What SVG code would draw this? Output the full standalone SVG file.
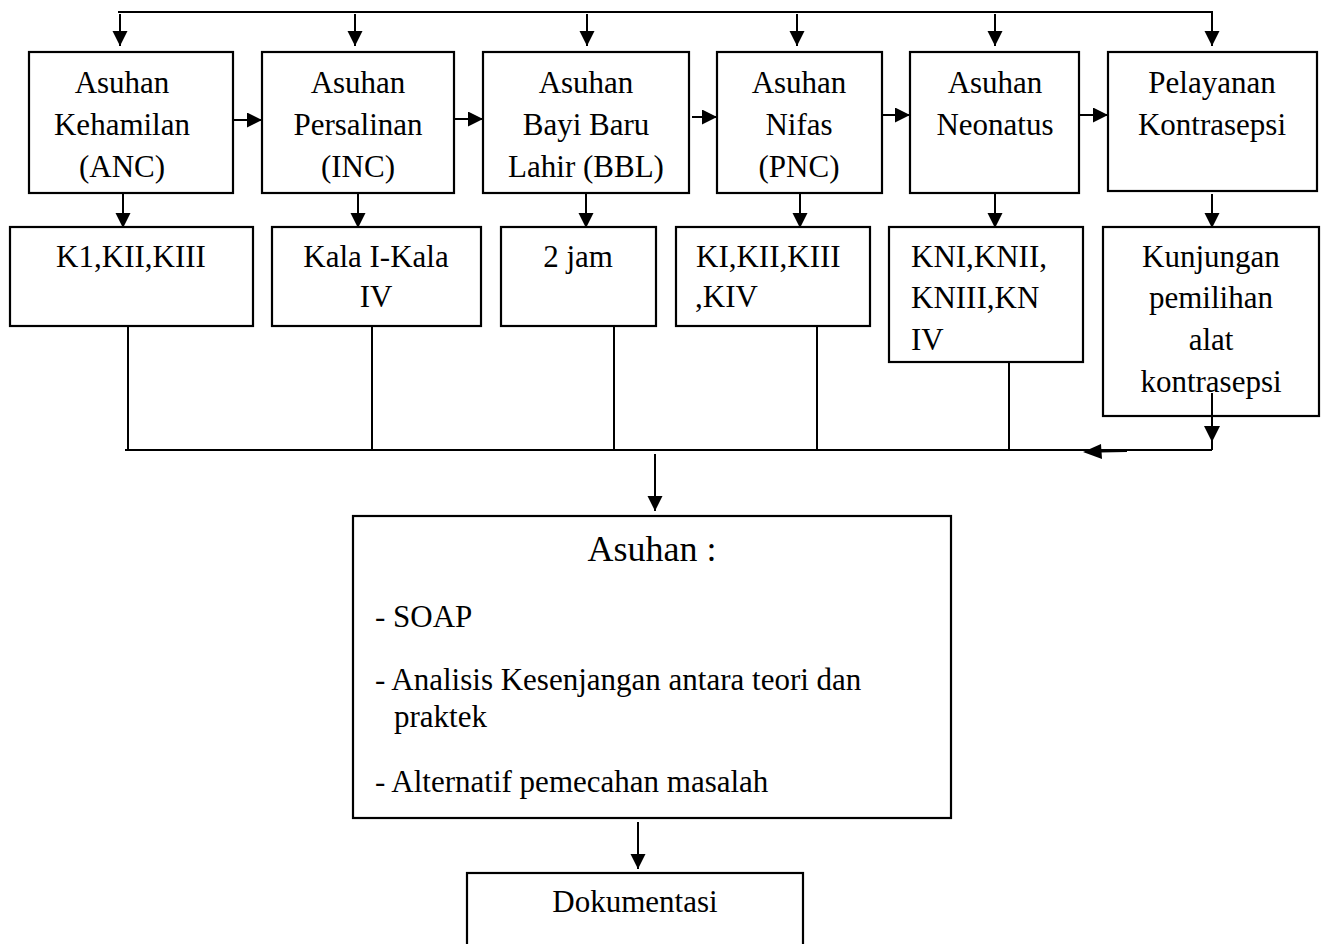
<svg xmlns="http://www.w3.org/2000/svg" width="1327" height="944" viewBox="0 0 1327 944">
<style>
.box{fill:#fff;stroke:#000;stroke-width:2.2}
.t{font-family:"Liberation Serif","Times New Roman",serif;font-size:31px;fill:#000}
.c{text-anchor:middle}
.ln{stroke:#000;stroke-width:2;fill:none}
.ah{fill:#000}
</style>
<defs>
<marker id="arr" markerUnits="userSpaceOnUse" markerWidth="16" markerHeight="16" refX="15" refY="7.5" orient="auto">
<path d="M0,0 L15,7.5 L0,15 Z" fill="#000"/>
</marker>
</defs>
<rect width="1327" height="944" fill="#fff"/>
<g id="connectors">
<line class="ln" x1="118" y1="12" x2="1213" y2="12"/>
<line class="ln" x1="120" y1="14" x2="120" y2="46" marker-end="url(#arr)"/>
<line class="ln" x1="355" y1="14" x2="355" y2="46" marker-end="url(#arr)"/>
<line class="ln" x1="587" y1="14" x2="587" y2="46" marker-end="url(#arr)"/>
<line class="ln" x1="797" y1="14" x2="797" y2="46" marker-end="url(#arr)"/>
<line class="ln" x1="995" y1="14" x2="995" y2="46" marker-end="url(#arr)"/>
<line class="ln" x1="1212" y1="12" x2="1212" y2="46" marker-end="url(#arr)"/>
<line class="ln" x1="233" y1="120" x2="262" y2="120" marker-end="url(#arr)"/>
<line class="ln" x1="454" y1="119" x2="483" y2="119" marker-end="url(#arr)"/>
<line class="ln" x1="692" y1="117" x2="717" y2="117" marker-end="url(#arr)"/>
<line class="ln" x1="883" y1="115" x2="910" y2="115" marker-end="url(#arr)"/>
<line class="ln" x1="1079" y1="115" x2="1108" y2="115" marker-end="url(#arr)"/>
<line class="ln" x1="123" y1="193" x2="123" y2="228" marker-end="url(#arr)"/>
<line class="ln" x1="358" y1="193" x2="358" y2="228" marker-end="url(#arr)"/>
<line class="ln" x1="586" y1="193" x2="586" y2="228" marker-end="url(#arr)"/>
<line class="ln" x1="800" y1="193" x2="800" y2="228" marker-end="url(#arr)"/>
<line class="ln" x1="995" y1="193" x2="995" y2="228" marker-end="url(#arr)"/>
<line class="ln" x1="1212" y1="194" x2="1212" y2="228" marker-end="url(#arr)"/>
<line class="ln" x1="128" y1="326" x2="128" y2="450"/>
<line class="ln" x1="372" y1="326" x2="372" y2="450"/>
<line class="ln" x1="614" y1="326" x2="614" y2="450"/>
<line class="ln" x1="817" y1="326" x2="817" y2="450"/>
<line class="ln" x1="1009" y1="362" x2="1009" y2="450"/>
<line class="ln" x1="125" y1="450" x2="1212" y2="450"/>
<line class="ln" x1="1212" y1="393" x2="1212" y2="450"/>
<polygon class="ah" points="1204,426 1220,426 1212,442"/>
<line class="ln" x1="1127" y1="451" x2="1100" y2="451.5"/>
<polygon class="ah" points="1083,452 1101,444 1102,459"/>
<line class="ln" x1="655" y1="454" x2="655" y2="511" marker-end="url(#arr)"/>
<line class="ln" x1="638" y1="822" x2="638" y2="869" marker-end="url(#arr)"/>
</g>
<g id="anc">
<rect class="box" x="29" y="52" width="204" height="141"/>
<text class="t c" x="122" y="93">Asuhan</text>
<text class="t c" x="122" y="135">Kehamilan</text>
<text class="t c" x="122" y="177">(ANC)</text>
</g>
<g id="inc">
<rect class="box" x="262" y="52" width="192" height="141"/>
<text class="t c" x="358" y="93">Asuhan</text>
<text class="t c" x="358" y="135">Persalinan</text>
<text class="t c" x="358" y="177">(INC)</text>
</g>
<g id="bbl">
<rect class="box" x="483" y="52" width="206" height="141"/>
<text class="t c" x="586" y="93">Asuhan</text>
<text class="t c" x="586" y="135">Bayi Baru</text>
<text class="t c" x="586" y="177">Lahir (BBL)</text>
</g>
<g id="pnc">
<rect class="box" x="717" y="52" width="165" height="141"/>
<text class="t c" x="799" y="93">Asuhan</text>
<text class="t c" x="799" y="135">Nifas</text>
<text class="t c" x="799" y="177">(PNC)</text>
</g>
<g id="neonatus">
<rect class="box" x="910" y="52" width="169" height="141"/>
<text class="t c" x="995" y="93">Asuhan</text>
<text class="t c" x="995" y="135">Neonatus</text>
</g>
<g id="kontrasepsi">
<rect class="box" x="1108" y="52" width="209" height="139"/>
<text class="t c" x="1212" y="93">Pelayanan</text>
<text class="t c" x="1212" y="135">Kontrasepsi</text>
</g>
<g id="k1">
<rect class="box" x="10" y="227" width="243" height="99"/>
<text class="t c" x="131" y="267">K1,KII,KIII</text>
</g>
<g id="kala">
<rect class="box" x="272" y="227" width="209" height="99"/>
<text class="t c" x="376" y="267">Kala I-Kala</text>
<text class="t c" x="376" y="307">IV</text>
</g>
<g id="jam">
<rect class="box" x="501" y="227" width="155" height="99"/>
<text class="t c" x="578" y="267">2 jam</text>
</g>
<g id="ki">
<rect class="box" x="676" y="227" width="194" height="99"/>
<text class="t" x="696" y="267">KI,KII,KIII</text>
<text class="t" x="695" y="307">,KIV</text>
</g>
<g id="kni">
<rect class="box" x="889" y="227" width="194" height="135"/>
<text class="t" x="911" y="267">KNI,KNII,</text>
<text class="t" x="911" y="308">KNIII,KN</text>
<text class="t" x="911" y="350">IV</text>
</g>
<g id="kunjungan">
<rect class="box" x="1103" y="227" width="216" height="189"/>
<text class="t c" x="1211" y="267">Kunjungan</text>
<text class="t c" x="1211" y="308">pemilihan</text>
<text class="t c" x="1211" y="350">alat</text>
<text class="t c" x="1211" y="392">kontrasepsi</text>
</g>
<line class="ln" x1="1212" y1="393" x2="1212" y2="416"/>
<g id="asuhan">
<rect class="box" x="353" y="516" width="598" height="302"/>
<text class="t c" x="652" y="561" style="font-size:36px">Asuhan :</text>
<text class="t" x="375" y="627">- SOAP</text>
<text class="t" x="375" y="690">- Analisis Kesenjangan antara teori dan</text>
<text class="t" x="394" y="727">praktek</text>
<text class="t" x="375" y="792">- Alternatif pemecahan masalah</text>
</g>
<g id="dokumentasi">
<rect class="box" x="467" y="873" width="336" height="90"/>
<text class="t c" x="635" y="912">Dokumentasi</text>
</g>
</svg>
